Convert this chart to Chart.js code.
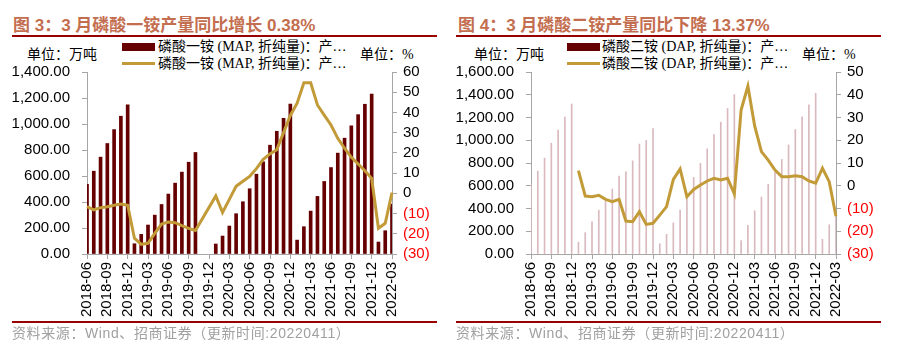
<!DOCTYPE html>
<html>
<head>
<meta charset="utf-8">
<script src="https://cdn.jsdelivr.net/npm/chart.js@4.4.1/dist/chart.umd.min.js"></script>
<style>
body { margin: 0; background: #fff; }
#page { position: relative; width: 904px; height: 353px; overflow: hidden; font-family: "Liberation Serif", "Noto Sans CJK SC", serif; }
.abs { position: absolute; white-space: nowrap; }
.title { font-family: "Liberation Sans", "Noto Sans CJK SC", sans-serif; font-weight: bold; font-size: 17px; line-height: 20px; color: #C46E50; }
.rule { position: absolute; background: #990000; }
.txt { font-size: 14px; line-height: 16px; color: #000; }
.src { font-family: "Liberation Sans", "Noto Sans CJK SC", sans-serif; font-size: 14px; letter-spacing: 0.6px; line-height: 16px; color: #A0A0A0; }
.box { position: absolute; width: 33px; height: 8px; background: #660000; }
.ln { position: absolute; width: 33px; height: 3px; background: #C29B38; }
.wrap { position: absolute; top: 0; width: 452px; height: 330px; }
</style>
</head>
<body>
<div id="page">
  <div class="abs title" style="left:13px;top:16px;">图 3：3 月磷酸一铵产量同比增长 0.38%</div>
  <div class="rule" style="left:12px;top:35px;width:425px;height:2px;"></div>
  <div class="abs txt" style="left:27px;top:47px;">单位：万吨</div>
  <div class="box" style="left:122px;top:43px;"></div>
  <div class="abs txt" style="left:158px;top:39px;">磷酸一铵 (MAP, 折纯量)：产…</div>
  <div class="ln" style="left:122px;top:62px;"></div>
  <div class="abs txt" style="left:158px;top:56px;">磷酸一铵 (MAP, 折纯量)：产…</div>
  <div class="abs txt" style="left:360px;top:47px;">单位：%</div>

  <div class="abs title" style="left:458px;top:16px;">图 4：3 月磷酸二铵产量同比下降 13.37%</div>
  <div class="rule" style="left:456px;top:35px;width:425px;height:2px;"></div>
  <div class="abs txt" style="left:474px;top:47px;">单位：万吨</div>
  <div class="box" style="left:567px;top:43px;"></div>
  <div class="abs txt" style="left:602px;top:39px;">磷酸二铵 (DAP, 折纯量)：产…</div>
  <div class="ln" style="left:567px;top:62px;"></div>
  <div class="abs txt" style="left:602px;top:56px;">磷酸二铵 (DAP, 折纯量)：产…</div>
  <div class="abs txt" style="left:802px;top:47px;">单位：%</div>

  <div class="wrap" style="left:0;"><canvas id="chartMap" width="452" height="330"></canvas></div>
  <div class="wrap" style="left:452px;"><canvas id="chartDap" width="452" height="330"></canvas></div>

  <div class="rule" style="left:12px;top:321px;width:425px;height:2px;"></div>
  <div class="abs src" style="left:12px;top:325px;">资料来源：Wind、招商证券（更新时间:20220411）</div>
  <div class="rule" style="left:456px;top:321px;width:425px;height:2px;"></div>
  <div class="abs src" style="left:456px;top:325px;">资料来源：Wind、招商证券（更新时间:20220411）</div>
</div>

<script>
var months = ['2018-06','2018-07','2018-08','2018-09','2018-10','2018-11','2018-12',
  '2019-01','2019-02','2019-03','2019-04','2019-05','2019-06','2019-07','2019-08','2019-09','2019-10','2019-11','2019-12',
  '2020-01','2020-02','2020-03','2020-04','2020-05','2020-06','2020-07','2020-08','2020-09','2020-10','2020-11','2020-12',
  '2021-01','2021-02','2021-03','2021-04','2021-05','2021-06','2021-07','2021-08','2021-09','2021-10','2021-11','2021-12',
  '2022-01','2022-02','2022-03'];

// 磷酸一铵 累计产量 (万吨) / 同比 (%)
var mapOutput = [535, 637, 745, 850, 957, 1060, 1147,
  79, 151, 223, 299, 381, 461, 545, 630, 706, 781, null, null,
  77, 138, 215, 310, 402, 502, 614, 709, 837, 944, 1044, 1154,
  107, 210, 330, 443, 558, 665, 776, 891, 985, 1072, 1152, 1231,
  92, 179, 384];
var mapYoy = [-6.6, -8.2, -7.1, -6.6, -5.9, -5.3, -5.9,
  -22.2, -25.2, -24.7, -19.8, -15.2, -14.2, -14.5, -16.0, -17.3, -18.4, null, null,
  -1.3, -9.5, -3.0, 3.5, 6.0, 8.4, 12.2, 16.8, 19.5, 21.6, 30.0, 38.5,
  44.6, 54.7, 54.7, 43.7, 38.7, 33.8, 27.2, 22.3, 17.8, 14.5, 11.2, 7.4,
  -17.3, -14.8, 0.38];

// 磷酸二铵 累计产量 (万吨) / 同比 (%)
var dapOutput = [615, 728, 843, 974, 1090, 1203, 1319,
  104, 188, 282, 386, 462, 571, 684, 723, 819, 966, 998, 1103,
  90, 173, 273, 386, 530, 673, 796, 925, 1050, 1159, 1279, 1401,
  117, 252, 380, 500, 614, 717, 831, 959, 1094, 1205, 1311, 1413,
  129, 257, 372];
var dapYoy = [null, null, null, null, null, null, null,
  6.6, -4.5, -4.8, -4.2, -6.0, -7.0, -6.0, -15.5, -15.8, -11.4, -17.0, -16.5,
  -12.9, -9.2, 2.8, 7.4, -4.8, -1.6, 0.3, 2.1, 3.3, 2.5, 3.3, -3.6,
  33.3, 43.8, 26.3, 15.0, 11.3, 6.9, 4.0, 4.0, 4.4, 4.0, 2.1, 1.1,
  7.7, 1.8, -13.37];

var leftTicksMap = [0, 200, 400, 600, 800, 1000, 1200, 1400];
var leftTicksDap = [0, 200, 400, 600, 800, 1000, 1200, 1400, 1600];

var axisGrey = '#A6A6A6';
var tickFont = { family: '"Liberation Sans", Arial, sans-serif', size: 15 };

function makeChart(id, bars, line, barColor, barWidth, yMax, y1Max, leftW, rightW) {
  return new Chart(document.getElementById(id), {
    type: 'bar',
    data: {
      labels: months,
      datasets: [
        {
          type: 'line',
          data: line,
          yAxisID: 'y1',
          borderColor: '#C29B38',
          borderWidth: 3,
          pointRadius: 0,
          tension: 0,
          spanGaps: true,
          order: 0
        },
        {
          type: 'bar',
          data: bars,
          yAxisID: 'y',
          backgroundColor: barColor,
          barThickness: barWidth,
          order: 1
        }
      ]
    },
    options: {
      responsive: false,
      animation: false,
      devicePixelRatio: 1,
      layout: { padding: { top: 72, left: 0, right: 0, bottom: 0 } },
      plugins: { legend: { display: false }, tooltip: { enabled: false } },
      scales: {
        x: {
          offset: false,
          grid: { drawOnChartArea: false, offset: false, color: axisGrey, tickLength: 5 },
          border: { color: axisGrey },
          ticks: {
            autoSkip: false, maxRotation: 90, minRotation: 90, padding: 3,
            color: '#000', font: tickFont,
            callback: function (v, i) { return i % 3 === 0 ? months[i] : null; }
          },
          afterFit: function (s) { s.height = 330 - 254; }
        },
        y: {
          position: 'left', min: 0, max: yMax,
          grid: { drawOnChartArea: false, color: axisGrey, tickLength: 5 },
          border: { color: axisGrey },
          ticks: {
            autoSkip: false, stepSize: 200, padding: 12, color: '#000', font: tickFont,
            callback: function (v) { return v.toLocaleString('en-US', { minimumFractionDigits: 2, maximumFractionDigits: 2 }); }
          },
          afterFit: function (s) { s.width = leftW; }
        },
        y1: {
          position: 'right', min: -30, max: y1Max,
          grid: { drawOnChartArea: false, color: axisGrey, tickLength: 5 },
          border: { color: axisGrey },
          ticks: {
            autoSkip: false, stepSize: 10, padding: 6, font: tickFont,
            color: function (c) { return c.tick && c.tick.value < 0 ? '#FF0000' : '#000'; },
            callback: function (v) { return v < 0 ? '(' + (-v) + ')' : String(v); }
          },
          afterFit: function (s) { s.width = rightW; }
        }
      }
    }
  });
}

makeChart('chartMap', mapOutput, mapYoy, '#660000', 3, leftTicksMap[leftTicksMap.length - 1], 60, 87, 60);
makeChart('chartDap', dapOutput, dapYoy, '#D9B9BD', 1, leftTicksDap[leftTicksDap.length - 1], 50, 79, 68);
</script>
</body>
</html>
